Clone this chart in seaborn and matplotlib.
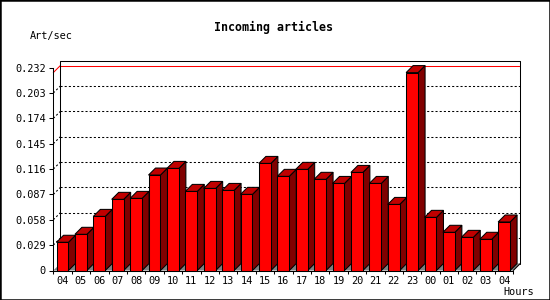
import numpy as np
import pandas as pd
import matplotlib
matplotlib.use("Agg")
import matplotlib.pyplot as plt
from matplotlib.patches import Polygon, Rectangle
import seaborn as sns

# ---- data ----
hours = ["04", "05", "06", "07", "08", "09", "10", "11", "12", "13", "14", "15",
         "16", "17", "18", "19", "20", "21", "22", "23", "00", "01", "02", "03", "04"]
values = [0.0323, 0.0414, 0.0619, 0.0814, 0.0825, 0.1092, 0.1168, 0.0905, 0.0939,
          0.0916, 0.0871, 0.1225, 0.1077, 0.1157, 0.1043, 0.0996, 0.1122, 0.0996,
          0.0756, 0.2264, 0.0608, 0.0437, 0.0379, 0.0357, 0.0555]
ytick_labels = ["0", "0.029", "0.058", "0.087", "0.116", "0.145", "0.174", "0.203", "0.232"]
yticks = [float(t) for t in ytick_labels]
title = "Incoming articles"
ylabel = "Art/sec"
xlabel = "Hours"

FRONT = "#ff0000"
SIDE = "#800000"
TOP = "#c00000"
FLOOR = "#808080"
LW = 0.75
MONO = "DejaVu Sans Mono"

sns.set_theme(style="white")
plt.rcParams["font.family"] = [MONO]
plt.rcParams["text.color"] = "black"

W, H = 550, 300
fig = plt.figure(figsize=(W / 100, H / 100), dpi=100)
fig.patch.set_facecolor("white")

# axes geometry in pixels (front plane)
x_left, x_right = 53.3, 513.3
y_zero, y_top = 270.5, 67.7
ax = fig.add_axes([x_left / W, (H - y_zero) / H, (x_right - x_left) / W, (y_zero - y_top) / H])
ax.set_facecolor("none")

n = len(values)
ymax = yticks[-1]
ax.set_xlim(-0.5, n - 0.5)
ax.set_ylim(0, ymax)

slot_px = (x_right - x_left) / n
val_px = (y_zero - y_top) / ymax
dx = 7.0 / slot_px
dy = 7.0 / val_px

df = pd.DataFrame({"slot": np.arange(n), "value": values})
sns.barplot(data=df, x="slot", y="value", color=FRONT, saturation=1, width=0.65,
            edgecolor="black", linewidth=LW, ax=ax, zorder=5)
bars = list(ax.patches)
for b in bars:
    b.set_zorder(6)
    b.set_clip_on(False)

x0w, x1w = -0.5 + dx, n - 0.5 + dx

# back wall grid (dotted) and diagonal connectors
for t in yticks[1:-1]:
    ax.plot([x0w, x1w], [t + dy, t + dy], color="black", lw=LW, ls=(0, (2, 2)),
            clip_on=False, zorder=1)
    ax.plot([-0.5, x0w], [t, t + dy], color="black", lw=LW, ls=(0, (2, 2)),
            clip_on=False, zorder=1)

# red max line
vmax = max(values)
ax.plot([x0w, x1w], [vmax + dy, vmax + dy], color="red", lw=LW, clip_on=False, zorder=2)
ax.plot([-0.5, x0w], [vmax, vmax + dy], color="red", lw=LW, clip_on=False, zorder=2)

# back wall border
ax.plot([x0w, x0w, x1w, x1w], [dy, ymax + dy, ymax + dy, dy], color="black", lw=LW,
        clip_on=False, zorder=2)

# floor
ax.add_patch(Polygon([(-0.5, 0), (n - 0.5, 0), (x1w, dy), (x0w, dy)], closed=True,
                     facecolor=FLOOR, edgecolor="none", clip_on=False, zorder=3))
ax.plot([n - 0.5, x1w], [0, dy], color="black", lw=LW, clip_on=False, zorder=7)

# bar sides and tops
for b in bars:
    bx0 = b.get_x()
    bx1 = bx0 + b.get_width()
    h = b.get_height()
    side = Polygon([(bx1, 0), (bx1 + dx, dy), (bx1 + dx, h + dy), (bx1, h)], closed=True,
                   facecolor=SIDE, edgecolor="black", lw=LW, clip_on=False, zorder=4)
    top = Polygon([(bx0, h), (bx0 + dx, h + dy), (bx1 + dx, h + dy), (bx1, h)], closed=True,
                  facecolor=TOP, edgecolor="black", lw=LW, clip_on=False, zorder=4)
    ax.add_patch(side)
    ax.add_patch(top)

# axes styling
for s in ["top", "right"]:
    ax.spines[s].set_visible(False)
for s in ["left", "bottom"]:
    ax.spines[s].set_color("black")
    ax.spines[s].set_linewidth(LW)
    ax.spines[s].set_zorder(8)

ax.set_yticks(yticks)
ax.set_yticklabels(ytick_labels)
ax.set_xticks(np.arange(n + 1) - 0.5)
ax.set_xticklabels([""] * (n + 1))
ax.set_xticks(np.arange(n), minor=True)
ax.set_xticklabels(hours, minor=True)
ax.tick_params(axis="y", which="major", direction="out", length=3, width=LW, color="black",
               pad=2.5, labelsize=7.4, labelcolor="black", left=True)
ax.tick_params(axis="x", which="major", direction="out", length=2.5, width=LW, color="black",
               bottom=True)
ax.tick_params(axis="x", which="minor", length=0, pad=3.8, labelsize=7.4,
               labelcolor="black")
ax.set_xlabel("")
ax.set_ylabel("")
ax.grid(False)

# texts
fig.text(273 / W, (H - 27) / H, title, ha="center", va="center", fontsize=8.4,
         fontweight="bold", family=MONO, color="black")
fig.text(30 / W, (H - 36) / H, ylabel, ha="left", va="center", fontsize=7.4, family=MONO,
         color="black")
fig.text(534 / W, (H - 292) / H, xlabel, ha="right", va="center", fontsize=7.4, family=MONO,
         color="black")

# outer frame
fig.add_artist(Rectangle((0, 0), 1, 1, transform=fig.transFigure, fill=False,
                         edgecolor="black", lw=1.8))

fig.savefig("out.png", dpi=100)
